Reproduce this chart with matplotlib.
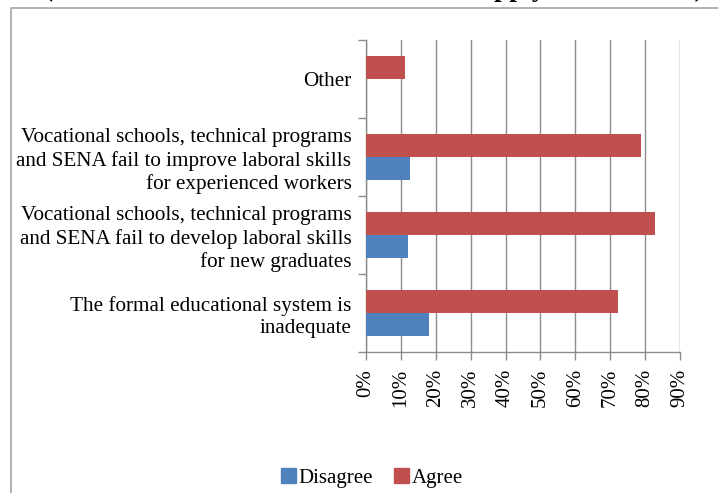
import matplotlib
matplotlib.use("Agg")
import matplotlib.pyplot as plt
import matplotlib.patches as mpatches
import numpy as np

plt.rcParams['font.family'] = ['Liberation Serif', 'DejaVu Serif']

categories = [
    "The formal educational system is\ninadequate",
    "Vocational schools, technical programs\nand SENA fail to develop laboral skills\nfor new graduates",
    "Vocational schools, technical programs\nand SENA fail to improve laboral skills\nfor experienced workers",
    "Other",
]
disagree = [0.181, 0.121, 0.126, 0.0]
agree = [0.721, 0.828, 0.787, 0.112]
x_ticks = [0.0, 0.1, 0.2, 0.3, 0.4, 0.5, 0.6, 0.7, 0.8, 0.9]
x_tick_labels = ["0%", "10%", "20%", "30%", "40%", "50%", "60%", "70%", "80%", "90%"]
series_names = ["Disagree", "Agree"]
title = "(All firms that answered: tick all that apply to their firm)"

BLUE = "#4F81BD"
RED = "#C0504D"
GRID = "#8C8C8C"

W, H = 718, 493
fig = plt.figure(figsize=(W / 100, H / 100), dpi=100)

# chart frame (extends past right and bottom edges)
frame = mpatches.Rectangle((11 / W, -0.1), 1.2, 1 - 8 / H + 0.1,
                           transform=fig.transFigure, fill=False,
                           edgecolor="#A6A6A6", linewidth=1.2, zorder=0)
fig.patches.append(frame)

# title sitting above the frame, only its lowest strokes on the page
fig.text(44 / W, 1 + 3.5 / H, title,
         ha="left", va="baseline", fontsize=19.5, fontweight="bold")

ax = fig.add_axes([366 / W, 1 - 352 / H, (680 - 366) / W, (352 - 40) / H])

y = np.arange(len(categories))
h = 0.295
ax.barh(y - h / 2, disagree, height=h, color=BLUE, label=series_names[0], zorder=3)
ax.barh(y + h / 2, agree, height=h, color=RED, label=series_names[1], zorder=3)

ax.set_xlim(0, 0.9)
ax.set_ylim(-0.5, len(categories) - 0.5)

ax.set_xticks(x_ticks)
ax.set_xticklabels(x_tick_labels, rotation=90, fontsize=15)
ax.tick_params(axis="x", direction="out", length=6, width=1, color=GRID, pad=6)

ax.set_yticks(y)
ax.set_yticklabels(categories, fontsize=15.2, ha="right", linespacing=1.25)
ax.set_yticks(np.arange(-0.5, len(categories)), minor=True)
ax.tick_params(axis="y", which="major", length=0, pad=10.5)
ax.tick_params(axis="y", which="minor", direction="out", length=6, width=1, color=GRID)

ax.grid(axis="x", color=GRID, linewidth=1, zorder=0)
ax.set_axisbelow(True)
for s in ["top", "right"]:
    ax.spines[s].set_visible(False)
for s in ["left", "bottom"]:
    ax.spines[s].set_color(GRID)
    ax.spines[s].set_linewidth(1)

handles = [mpatches.Patch(color=BLUE), mpatches.Patch(color=RED)]
fig.legend(handles, series_names, loc="center", bbox_to_anchor=(372 / W, 1 - 478 / H),
           ncol=2, frameon=False, fontsize=15, handlelength=0.72, handleheight=0.72,
           handletextpad=0.15, columnspacing=1.0)

fig.savefig("out.png", dpi=100)
